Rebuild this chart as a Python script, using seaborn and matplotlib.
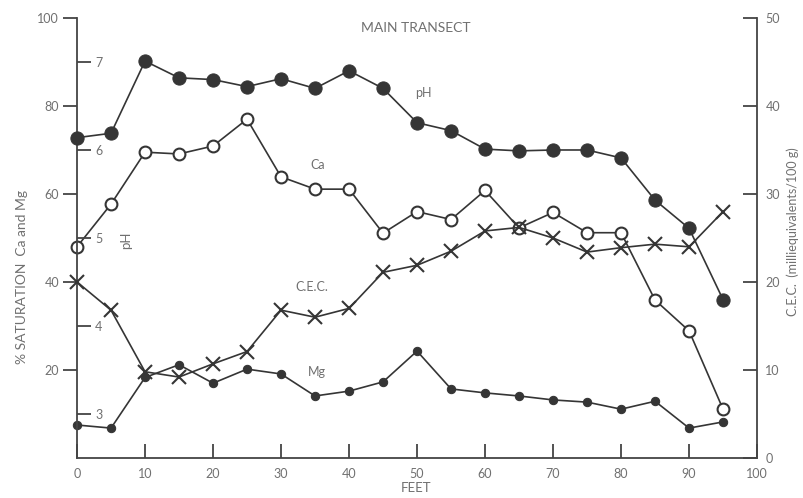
import matplotlib
matplotlib.use("Agg")
import matplotlib.pyplot as plt
import seaborn as sns

# ---- data ----
feet = [0, 5, 10, 15, 20, 25, 30, 35, 40, 45, 50, 55, 60, 65, 70, 75, 80, 85, 90, 95]
ph = [6.14, 6.19, 7.01, 6.82, 6.80, 6.72, 6.81, 6.70, 6.90, 6.70,
      6.31, 6.22, 6.01, 5.99, 6.00, 6.00, 5.91, 5.43, 5.11, 4.30]
ca = [48.0, 57.7, 69.5, 69.1, 70.9, 77.0, 63.9, 61.1, 61.1, 51.1,
      56.0, 54.2, 60.8, 52.3, 55.8, 51.2, 51.2, 35.9, 28.9, 11.1]
mg = [7.5, 6.8, 18.3, 21.2, 17.0, 20.2, 19.1, 14.1, 15.2, 17.3,
      24.3, 15.7, 14.8, 14.1, 13.2, 12.7, 11.1, 12.9, 6.8, 8.2]
cec = [20.0, 16.8, 9.8, 9.2, 10.7, 12.1, 16.8, 16.0, 17.0, 21.1,
       21.9, 23.5, 25.8, 26.2, 25.0, 23.4, 23.9, 24.3, 24.0, 28.0]

x_ticks = [0, 10, 20, 30, 40, 50, 60, 70, 80, 90, 100]
sat_ticks = [20, 40, 60, 80, 100]
ph_ticks = [3, 4, 5, 6, 7]
cec_ticks = [0, 10, 20, 30, 40, 50]

sns.set_style("ticks")
plt.rcParams['font.family'] = ['Lato', 'DejaVu Sans']

INK = "#353535"
TXT = "#707070"

fig = plt.figure(figsize=(8.04, 4.98), dpi=100)
ax = fig.add_axes([0.0958, 0.0803, 0.8458, 0.8836])
ax2 = ax.twinx()   # C.E.C.
ax3 = ax.twinx()   # pH (inner scale)

line_kw = dict(color=INK, linewidth=1.2, clip_on=False)

sns.lineplot(x=feet, y=ca, ax=ax, marker='o', markersize=8.5,
             markerfacecolor='white', markeredgecolor=INK, markeredgewidth=1.5, **line_kw)
sns.lineplot(x=feet, y=mg, ax=ax, marker='o', markersize=6,
             markerfacecolor=INK, markeredgecolor=INK, **line_kw)
sns.lineplot(x=feet, y=cec, ax=ax2, marker='x', markersize=10,
             markeredgewidth=1.5, markeredgecolor=INK, **line_kw)
sns.lineplot(x=feet, y=ph, ax=ax3, marker='o', markersize=9.5,
             markerfacecolor=INK, markeredgecolor=INK, **line_kw)

for a in (ax, ax2, ax3):
    a.set_xlim(0, 100)
    a.set_xlabel("")
    a.set_ylabel("")
    a.spines['top'].set_visible(False)
    for s in a.spines.values():
        s.set_color("#444444")
        s.set_linewidth(1.3)

ax.set_ylim(0, 100)
ax2.set_ylim(0, 50)
ax3.set_ylim(2.5, 7.5)

# x axis
ax.set_xticks(x_ticks)
ax.set_xticklabels([str(t) for t in x_ticks])
ax.tick_params(axis='x', direction='in', length=10, width=1.3, color="#444444",
               labelsize=9, labelcolor=TXT, pad=7)

# left saturation axis
ax.set_yticks(sat_ticks)
ax.set_yticklabels([str(t) for t in sat_ticks])
ax.tick_params(axis='y', direction='out', length=10, width=1.3, color="#444444",
               labelsize=9, labelcolor=TXT, pad=3)
ax.spines['right'].set_visible(False)

# right CEC axis
ax2.set_yticks(cec_ticks)
ax2.set_yticklabels([str(t) for t in cec_ticks])
ax2.tick_params(axis='y', direction='in', length=10, width=1.3, color="#444444",
                labelsize=9, labelcolor=TXT, pad=6)
ax2.spines['left'].set_visible(False)
ax2.spines['bottom'].set_visible(False)

# inner pH axis
ax3.yaxis.set_ticks_position('left')
ax3.set_yticks(ph_ticks)
ax3.set_yticklabels([str(t) for t in ph_ticks], ha='left')
ax3.tick_params(axis='y', direction='in', length=10, width=1.3, color="#444444",
                labelsize=9, labelcolor=TXT, pad=-13)
ax3.spines['right'].set_visible(False)
ax3.spines['left'].set_visible(False)
ax3.spines['bottom'].set_visible(False)
ax3.tick_params(axis='x', bottom=False, labelbottom=False)
ax2.tick_params(axis='x', bottom=False, labelbottom=False)

# texts
fig.text(416/804, 1 - 28/498, "MAIN TRANSECT", ha='center', va='center',
         fontsize=10, color=TXT)
fig.text(416/804, 1 - 488/498, "FEET", ha='center', va='center',
         fontsize=9.5, color=TXT)
fig.text(22/804, 1 - 277/498, "% SATURATION  Ca and Mg", rotation=90,
         ha='center', va='center', fontsize=10, color=TXT)
fig.text(126/804, 1 - 240/498, "pH", rotation=90, ha='center', va='center',
         fontsize=9.5, color=TXT)
fig.text(793/804, 1 - 232/498, "C.E.C.  (milliequivalents/100 g)", rotation=90,
         ha='center', va='center', fontsize=9, color=TXT)

fig.text(423/804, 1 - 93/498, "pH", ha='center', va='center', fontsize=9, color=TXT)
fig.text(318/804, 1 - 165/498, "Ca", ha='center', va='center', fontsize=9, color=TXT)
fig.text(312/804, 1 - 287/498, "C.E.C.", ha='center', va='center', fontsize=9, color=TXT)
fig.text(317/804, 1 - 372/498, "Mg", ha='center', va='center', fontsize=9, color=TXT)

fig.savefig("out.png", dpi=100)
